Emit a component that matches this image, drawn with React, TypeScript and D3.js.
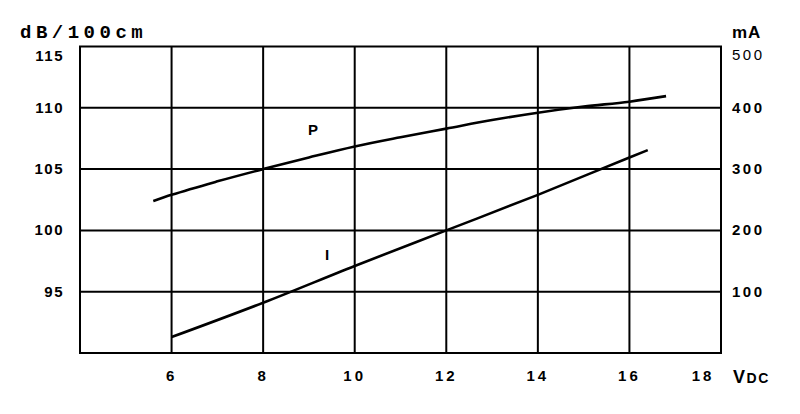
import React from "react";
import * as d3 from "d3";

const xTicks = [6, 8, 10, 12, 14, 16, 18];
const leftTicks = [115, 110, 105, 100, 95];
const rightTicks = [500, 400, 300, 200, 100];

// Curve P (dB/100cm vs VDC)
const pX = [5.6, 6, 7, 8, 9, 10, 11, 12, 13, 14, 15, 16, 16.8];
const pY = [102.4, 102.9, 104.0, 105.0, 105.95, 106.85, 107.6, 108.3, 109.0, 109.6, 110.1, 110.5, 110.95];

// Curve I (mA vs VDC)
const iX = [6, 8, 10, 12, 14, 16, 16.4];
const iY = [26, 82, 142, 200, 258, 319, 331];

const W = 800;
const H = 414;
const left = 80;
const right = 721;
const top = 46.5;
const bottom = 353;

export default function App() {
  const x = d3.scaleLinear().domain([4, 18]).range([left, right]);
  const yL = d3.scaleLinear().domain([90, 115]).range([bottom, top]);
  const yR = d3.scaleLinear().domain([0, 500]).range([bottom, top]);

  const lineP = d3
    .line<number>()
    .x((_, i) => x(pX[i]))
    .y((d) => yL(d))
    .curve(d3.curveMonotoneX);
  const lineI = d3
    .line<number>()
    .x((_, i) => x(iX[i]))
    .y((d) => yR(d))
    .curve(d3.curveMonotoneX);

  const font = "'Liberation Sans', Arial, sans-serif";

  return (
    <svg
      width={W}
      height={H}
      style={{ position: "absolute", left: 0, top: 0, background: "#fff" }}
    >
      <rect x={0} y={0} width={W} height={H} fill="#fff" />
      {/* vertical grid lines */}
      {xTicks.slice(0, -1).map((t) => (
        <line key={"vx" + t} x1={x(t)} x2={x(t)} y1={top} y2={bottom} stroke="#000" strokeWidth={2} />
      ))}
      {/* horizontal grid lines */}
      {[110, 105, 100, 95].map((t) => (
        <line key={"hy" + t} x1={left} x2={right} y1={yL(t)} y2={yL(t)} stroke="#000" strokeWidth={2} />
      ))}
      {/* frame */}
      <rect
        x={left}
        y={top}
        width={right - left}
        height={bottom - top}
        fill="none"
        stroke="#000"
        strokeWidth={2}
      />
      {/* curves */}
      <path d={lineP(pY) || ""} fill="none" stroke="#000" strokeWidth={2.6} />
      <path d={lineI(iY) || ""} fill="none" stroke="#000" strokeWidth={2.6} />
      <text x={313} y={135} fontFamily={font} fontWeight="bold" fontSize={15} textAnchor="middle">
        P
      </text>
      <text x={327} y={260} fontFamily={font} fontWeight="bold" fontSize={15} textAnchor="middle">
        I
      </text>

      {/* left axis title */}
      <text
        x={20}
        y={38}
        fontFamily="'Liberation Mono', 'DejaVu Sans Mono', monospace"
        fontWeight="bold"
        fontSize={19}
        letterSpacing={4.5}
      >
        dB/100cm
      </text>
      {leftTicks.map((t, i) => (
        <text
          key={"lt" + t}
          x={64}
          y={(i === 0 ? yL(t) + 9 : yL(t)) + 5}
          fontFamily={font}
          fontWeight="bold"
          fontSize={15}
          letterSpacing={1.5}
          textAnchor="end"
        >
          {t}
        </text>
      ))}

      {/* right axis */}
      <text x={732} y={38} fontFamily={font} fontWeight="bold" fontSize={17} letterSpacing={1}>
        mA
      </text>
      {rightTicks.map((t, i) => (
        <text
          key={"rt" + t}
          x={732}
          y={(i === 0 ? yR(t) + 8 : yR(t)) + 5}
          fontFamily={font}
          fontWeight={i === 0 ? "normal" : "bold"}
          fontSize={15}
          letterSpacing={2.5}
          textAnchor="start"
        >
          {t}
        </text>
      ))}

      {/* bottom axis */}
      {xTicks.map((t) => (
        <text
          key={"bx" + t}
          x={t === 18 ? x(t) - 18 : x(t)}
          y={381}
          fontFamily={font}
          fontWeight="bold"
          fontSize={15}
          letterSpacing={3}
          textAnchor="middle"
        >
          {t}
        </text>
      ))}
      <text x={733} y={383} fontFamily={font} fontWeight="bold" fontSize={18} letterSpacing={1.5}>
        V
        <tspan fontSize={14}>DC</tspan>
      </text>
    </svg>
  );
}
